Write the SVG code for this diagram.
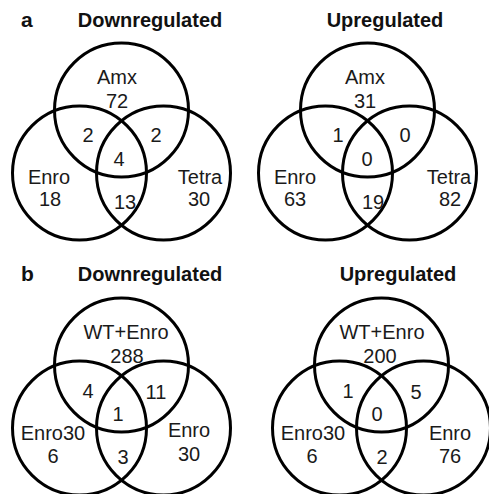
<svg xmlns="http://www.w3.org/2000/svg" width="489" height="494" viewBox="0 0 489 494">
<style>
.c{fill:none;stroke:#000;stroke-width:3}
.t{font-family:"Liberation Sans",Arial,sans-serif;font-size:20px;fill:#1a1a1a;text-anchor:middle}
.h{font-family:"Liberation Sans",Arial,sans-serif;font-size:20px;font-weight:bold;fill:#111;text-anchor:middle}
.p{font-family:"Liberation Sans",Arial,sans-serif;font-size:21px;font-weight:bold;fill:#111}
</style>
<rect width="489" height="494" fill="#fff"/>
<defs>
<g id="venn">
<circle class="c" cx="121.5" cy="110" r="67"/>
<circle class="c" cx="79.5" cy="173" r="67"/>
<circle class="c" cx="163.5" cy="173" r="67"/>
</g>
</defs>
<text class="p" x="21" y="27">a</text>
<text class="p" x="21" y="281">b</text>
<g id="a-down">
<text class="h" x="150" y="27">Downregulated</text>
<use href="#venn"/>
<text class="t" x="117" y="84">Amx</text>
<text class="t" x="117" y="108">72</text>
<text class="t" x="88" y="142">2</text>
<text class="t" x="156" y="142">2</text>
<text class="t" x="119" y="166">4</text>
<text class="t" x="49" y="184">Enro</text>
<text class="t" x="50" y="206">18</text>
<text class="t" x="125" y="209">13</text>
<text class="t" x="200" y="184">Tetra</text>
<text class="t" x="199" y="206">30</text>
</g>
<g id="a-up">
<text class="h" x="385" y="27">Upregulated</text>
<use href="#venn" transform="translate(246,0)"/>
<text class="t" x="365" y="84">Amx</text>
<text class="t" x="365" y="108">31</text>
<text class="t" x="338" y="142">1</text>
<text class="t" x="405" y="142">0</text>
<text class="t" x="367" y="166">0</text>
<text class="t" x="295" y="184">Enro</text>
<text class="t" x="295" y="206">63</text>
<text class="t" x="373" y="209">19</text>
<text class="t" x="449" y="184">Tetra</text>
<text class="t" x="450" y="206">82</text>
</g>
<g id="b-down">
<text class="h" x="150" y="281">Downregulated</text>
<use href="#venn" transform="translate(0,255)"/>
<text class="t" x="126" y="339">WT+Enro</text>
<text class="t" x="127" y="363">288</text>
<text class="t" x="88" y="398">4</text>
<text class="t" x="156" y="399">11</text>
<text class="t" x="118" y="421">1</text>
<text class="t" x="53" y="440">Enro30</text>
<text class="t" x="53" y="463">6</text>
<text class="t" x="123" y="464">3</text>
<text class="t" x="189" y="437">Enro</text>
<text class="t" x="189" y="461">30</text>
</g>
<g id="b-up">
<text class="h" x="398" y="281">Upregulated</text>
<use href="#venn" transform="translate(260,255)"/>
<text class="t" x="382" y="339">WT+Enro</text>
<text class="t" x="380" y="363">200</text>
<text class="t" x="348" y="398">1</text>
<text class="t" x="416" y="399">5</text>
<text class="t" x="377" y="421">0</text>
<text class="t" x="313" y="440">Enro30</text>
<text class="t" x="312" y="463">6</text>
<text class="t" x="382" y="464">2</text>
<text class="t" x="450" y="440">Enro</text>
<text class="t" x="450" y="463">76</text>
</g>
</svg>
